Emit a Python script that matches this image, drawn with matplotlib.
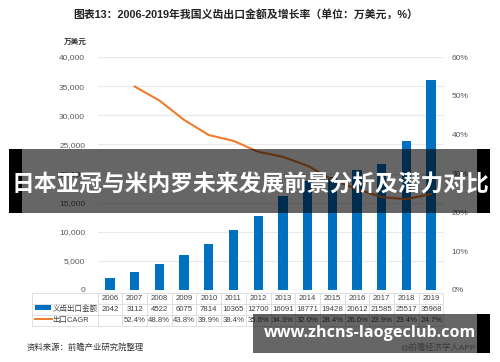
import matplotlib
matplotlib.use("Agg")
import matplotlib.pyplot as plt
import numpy as np
from matplotlib.patches import Rectangle
from matplotlib.lines import Line2D
from matplotlib.ticker import FuncFormatter

plt.rcParams['font.family'] = ['Liberation Sans', 'Noto Sans CJK SC']

years = ['2006', '2007', '2008', '2009', '2010', '2011', '2012',
         '2013', '2014', '2015', '2016', '2017', '2018', '2019']
export_value = [2042, 3112, 4522, 6075, 7814, 10365, 12700,
                16091, 18771, 19428, 20612, 21585, 25517, 35968]
cagr = [None, 52.4, 48.8, 43.8, 39.9, 38.4, 35.6,
        34.3, 32.0, 28.4, 26.0, 23.9, 23.4, 24.7]

W, H = 500, 362
def fx(px):
    return px / W
def fy(py):
    return 1 - py / H

bar_color = '#0070C0'
line_color = '#F07B2C'
grid_color = '#e6e9ef'
tick_color = '#595959'

fig = plt.figure(figsize=(5, 3.62), dpi=100)
fig.patch.set_facecolor('white')

ax_l, ax_r, ax_t, ax_b = 97.6, 443.5, 57, 290
ax = fig.add_axes([fx(ax_l), fy(ax_b), fx(ax_r) - fx(ax_l), fy(ax_t) - fy(ax_b)])

x = np.arange(len(years))
ax.bar(x, export_value, width=0.38, color=bar_color, zorder=2)
ax.set_xlim(-0.5, len(years) - 0.5)
ax.set_ylim(0, 40000)
ax.set_yticks(np.arange(0, 40001, 5000))
ax.yaxis.set_major_formatter(FuncFormatter(lambda v, p: '{:,}'.format(int(v))))
ax.grid(axis='y', color=grid_color, linewidth=0.8, zorder=0)
ax.set_xticks([])
ax.tick_params(axis='y', length=0, labelsize=6, labelcolor=tick_color, pad=9)
for s in ax.spines.values():
    s.set_visible(False)

ax2 = ax.twinx()
cx = [i for i, v in enumerate(cagr) if v is not None]
cy = [v for v in cagr if v is not None]
ax2.plot(cx, cy, color=line_color, linewidth=1.5, zorder=3)
ax2.set_ylim(0, 60)
ax2.set_yticks(np.arange(0, 61, 10))
ax2.yaxis.set_major_formatter(FuncFormatter(lambda v, p: '%d%%' % v))
ax2.tick_params(axis='y', length=0, labelsize=6, labelcolor=tick_color, pad=6)
for s in ax2.spines.values():
    s.set_visible(False)

# table under the chart
rows = [[''] + years,
        ['义齿出口金额'] + ['%d' % v for v in export_value],
        ['出口CAGR'] + ['' if v is None else '%.1f%%' % v for v in cagr]]
tab_l, tab_r, tab_t, tab_b = 32, 443.5, 293, 326
first_w = (ax_l - tab_l) / (tab_r - tab_l)
col_w = (1 - first_w) / len(years)
bx = (tab_l - ax_l) / (ax_r - ax_l)
bw = (tab_r - tab_l) / (ax_r - ax_l)
by = (ax_b - tab_b) / (ax_b - ax_t)
bh = (tab_b - tab_t) / (ax_b - ax_t)
tbl = ax.table(cellText=rows, colWidths=[first_w] + [col_w] * len(years),
               cellLoc='center', bbox=[bx, by, bw, bh])
tbl.auto_set_font_size(False)
tbl.set_fontsize(5.6)
for (r, c), cell in tbl.get_celld().items():
    cell.set_edgecolor('#dcdcdc')
    cell.set_linewidth(0.6)
    cell.get_text().set_color('#404040')
    if c == 0:
        cell.get_text().set_ha('left')
        cell.get_text().set_fontsize(5.4)
        cell._loc = 'left'
        cell.PAD = 0.31

fig.add_artist(Rectangle((fx(35), fy(309.5)), fx(51) - fx(35), fy(305) - fy(309.5),
                         transform=fig.transFigure, color=bar_color, lw=0))
fig.add_artist(Line2D([fx(35), fx(52)], [fy(319), fy(319)], transform=fig.transFigure,
                      color=line_color, lw=1.4))

fig.text(fx(246), fy(14), '图表13：2006-2019年我国义齿出口金额及增长率（单位：万美元，%）',
         ha='center', va='center', fontsize=7.8, fontweight='bold', color='#222222')
fig.text(fx(75), fy(42), '万美元', ha='center', va='center', fontsize=5.5,
         fontweight='bold', color='#333333')
fig.text(fx(27), fy(348), '资料来源：前瞻产业研究院整理', ha='left', va='center',
         fontsize=6, color='#333333')

# overlay banners
fig.add_artist(Rectangle((fx(9), fy(213)), fx(490) - fx(9), fy(149) - fy(213),
                         transform=fig.transFigure, color='black', alpha=0.6, lw=0, zorder=10))
fig.add_artist(Rectangle((fx(9), fy(213)), fx(22) - fx(9), fy(149) - fy(213),
                         transform=fig.transFigure, color='black', lw=0, zorder=10))
fig.add_artist(Rectangle((fx(477), fy(213)), fx(490) - fx(477), fy(149) - fy(213),
                         transform=fig.transFigure, color='black', lw=0, zorder=10))
fig.text(fx(250), fy(184), '日本亚冠与米内罗未来发展前景分析及潜力对比', ha='center', va='center',
         fontsize=16.4, fontweight='bold', color='white', zorder=11,
         family=['Noto Sans CJK SC'])

fig.add_artist(Rectangle((fx(253), fy(353)), fx(490) - fx(253), fy(314) - fy(353),
                         transform=fig.transFigure, color='black', alpha=0.6, lw=0, zorder=10))
fig.add_artist(Rectangle((fx(477), fy(353)), fx(490) - fx(477), fy(314) - fy(353),
                         transform=fig.transFigure, color='black', lw=0, zorder=10))
fig.text(fx(370), fy(333), 'www.zhcns-laogeclub.com', ha='center', va='center',
         fontsize=11.6, fontweight='bold', color='white', zorder=11,
         family=['Open Sans'])
fig.text(fx(476), fy(347.5), '@前瞻经济学人APP', ha='right', va='center',
         fontsize=6, color='#3a3a3a', zorder=11)

fig.savefig('out.png', dpi=100)
